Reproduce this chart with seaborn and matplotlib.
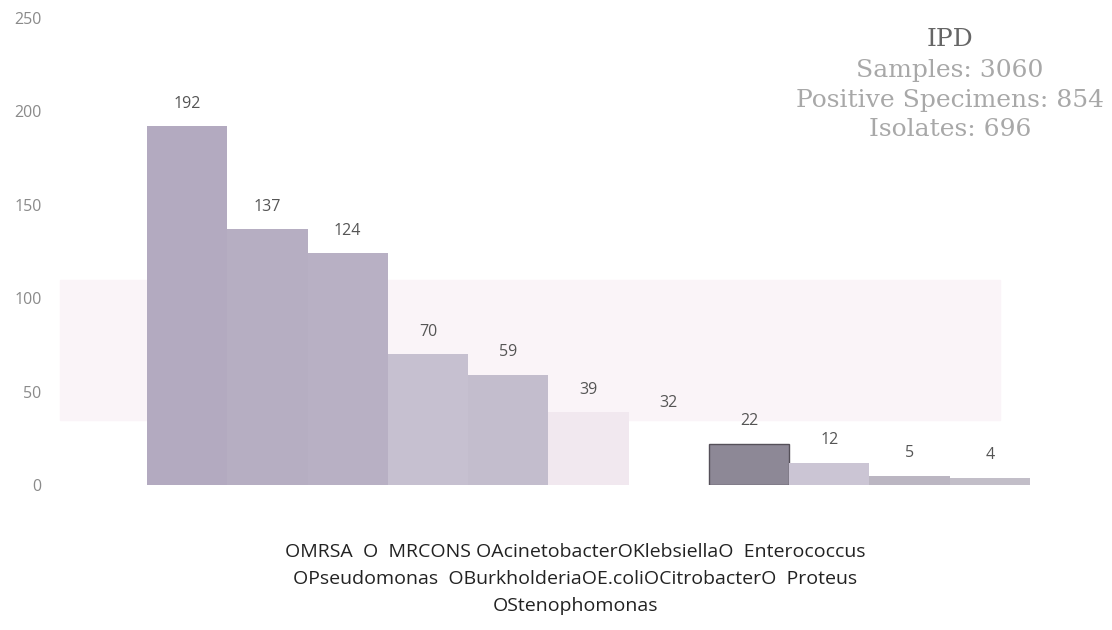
import matplotlib
matplotlib.use("Agg")
import matplotlib.pyplot as plt
import matplotlib.patches as mpatches
import pandas as pd
import seaborn as sns

# Data
organisms = ["MRSA", "MRCONS", "Acinetobacter", "Klebsiella", "Enterococcus",
             "Pseudomonas", "Burkholderia", "E.coli", "Citrobacter", "Proteus",
             "Stenophomonas"]
isolates = [192, 137, 124, 70, 59, 39, 32, 22, 12, 5, 4]
y_ticks = [0, 50, 100, 150, 200, 250]
info_lines = ["IPD", "Samples: 3060", "Positive Specimens: 854", "Isolates: 696"]
legend_lines = ["OMRSA  O  MRCONS OAcinetobacterOKlebsiellaO  Enterococcus",
                "OPseudomonas  OBurkholderiaOE.coliOCitrobacterO  Proteus",
                "OStenophomonas"]

# faded, scanned-looking bar colours
bar_colors = ["#b3aac0", "#b6aec2", "#b8b0c4", "#c6c0d0", "#c3bdcd",
              "#f1e8ef", "#ffffff", "#8d8896", "#cbc5d4", "#bbb6c2", "#c2bec8"]

df = pd.DataFrame({"organism": organisms, "count": isolates})

sns.set_style("white")
plt.rcParams["font.family"] = ["Open Sans", "DejaVu Sans"]

fig = plt.figure(figsize=(11.12, 6.3), dpi=100)

# faint pink scan band behind the chart
fig.patches.append(mpatches.Rectangle((60 / 1112, 210 / 630), 940 / 1112, 140 / 630,
                                      transform=fig.transFigure, color="#faf4f8",
                                      zorder=-1))

ax = fig.add_axes([147 / 1112, 145 / 630, 883 / 1112, 467 / 630])
ax.set_facecolor("none")

sns.barplot(data=df, x="organism", y="count", hue="organism", palette=bar_colors,
            legend=False, width=1.0, ax=ax, saturation=1)

for i, p in enumerate(ax.patches):
    if organisms[i] == "E.coli":
        p.set_edgecolor("#555059")
        p.set_linewidth(1.0)
    else:
        p.set_edgecolor("none")

for i, v in enumerate(isolates):
    ax.text(i, v + 12, str(v), ha="center", va="center", fontsize=11.5,
            color="#555555")

ax.set_xlim(-0.5, len(organisms) - 0.5)
ax.set_ylim(0, 250)
ax.set_yticks(y_ticks)
ax.set_xticks([])
ax.set_xlabel("")
ax.set_ylabel("")
ax.tick_params(axis="y", length=0, pad=76, labelsize=11.5, labelcolor="#8a8a8a")
sns.despine(ax=ax, left=True, bottom=True)

# info block top right
for k, line in enumerate(info_lines):
    fig.text(950 / 1112, 1 - (40 + 30 * k) / 630, line, ha="center", va="center",
             fontsize=18, family="DejaVu Serif",
             color="#666666" if k == 0 else "#a8a8a8")

# legend, as it came out of the scan
for k, line in enumerate(legend_lines):
    fig.text(575 / 1112, 1 - (552 + 27 * k) / 630, line, ha="center", va="center",
             fontsize=14, color="#222222")

fig.savefig("out.png", dpi=100)
